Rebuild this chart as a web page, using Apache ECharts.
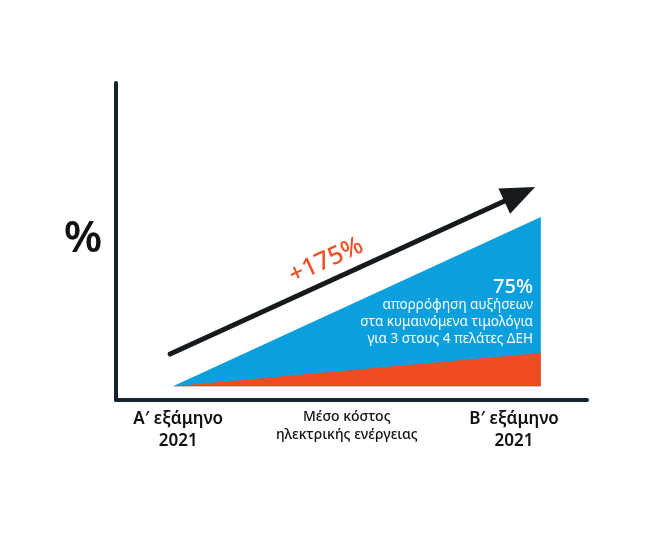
<!DOCTYPE html>
<html>
<head>
<meta charset="utf-8">
<script src="https://cdn.jsdelivr.net/npm/echarts@6/dist/echarts.min.js"></script>
<style>
html,body{margin:0;padding:0;background:#fff;}
#chart{width:650px;height:535px;}
</style>
</head>
<body>
<div id="chart"></div>
<script>
// ---- data ----
const categories = ['Α′ εξάμηνο\n2021', 'Μέσο κόστος\nηλεκτρικής ενέργειας', 'Β′ εξάμηνο\n2021'];
const categoryAt = [13.2, 49.0, 84.5];          // where each label sits on the x scale
const periodX = [12.1, 90.2];                   // start / end of the period
const baseline = [4.3, 4.3];
const costIncrease = [4.3, 57.7];               // blue area top
const absorbedByDEH = [4.3, 14.8];              // red area top
const trendX = [11.5, 89.0];
const trendY = [14.5, 67.2];
const trendLabel = '+175%';
const noteTitle = '75%';
const noteLines = ['απορρόφηση αυξήσεων', 'στα κυμαινόμενα τιμολόγια', 'για 3 στους 4 πελάτες ΔΕΗ'];
const yName = '%';

const FONT = '"Noto Sans", sans-serif';
const AXIS = '#14242f';
const BLUE = '#0b9fde';
const RED = '#f04c22';

function triangle(topArr, color) {
  return {
    type: 'custom',
    coordinateSystem: 'cartesian2d',
    data: [[periodX[0], topArr[0], periodX[1], topArr[1], baseline[0], baseline[1]]],
    encode: { x: [0, 2], y: [1, 3, 4, 5] },
    renderItem: function (params, api) {
      const a = api.coord([api.value(0), api.value(1)]);
      const b = api.coord([api.value(2), api.value(3)]);
      const c = api.coord([api.value(2), api.value(5)]);
      const d = api.coord([api.value(0), api.value(4)]);
      return {
        type: 'polygon',
        shape: { points: [d, a, b, c] },
        style: { fill: color }
      };
    },
    silent: true
  };
}

function note(text, y, size, weight) {
  return { type: 'text', x: 533, y: y, z: 100,
    style: { text: text, fill: '#ffffff', fontFamily: FONT, fontSize: size, fontWeight: weight,
             align: 'right', verticalAlign: 'middle' } };
}

const chart = echarts.init(document.getElementById('chart'), null, { renderer: 'canvas' });
chart.setOption({
  animation: false,
  backgroundColor: '#ffffff',
  grid: { left: 116, right: 63, top: 83, bottom: 135 },
  xAxis: {
    type: 'value', min: 0, max: 100,
    splitLine: { show: false },
    axisTick: { show: false },
    axisLine: { show: true, lineStyle: { color: AXIS, width: 4, cap: 'round' } },
    axisLabel: {
      show: true,
      customValues: categoryAt,
      margin: 8,
      formatter: function (v) {
        const i = categoryAt.indexOf(v);
        if (i < 0) return '';
        const st = (i === 1) ? 'b' : 'a';
        return categories[i].split('\n').map(function (s) { return '{' + st + '|' + s + '}'; }).join('\n');
      },
      rich: {
        a: { fontFamily: FONT, fontSize: 17, fontWeight: 600, color: '#111', lineHeight: 22, align: 'center' },
        b: { fontFamily: FONT, fontSize: 14, fontWeight: 500, color: '#111', lineHeight: 18, align: 'center' }
      }
    }
  },
  yAxis: {
    type: 'value', min: 0, max: 100,
    splitLine: { show: false },
    axisTick: { show: false },
    axisLabel: { show: false },
    axisLine: { show: true, lineStyle: { color: AXIS, width: 4, cap: 'round' } }
  },
  series: [
    triangle(costIncrease, BLUE),
    triangle(absorbedByDEH, RED),
    {
      type: 'custom',
      coordinateSystem: 'cartesian2d',
      data: [[trendX[0], trendY[0], trendX[1], trendY[1]]],
      encode: { x: [0, 2], y: [1, 3] },
      silent: true,
      renderItem: function (params, api) {
        const p0 = api.coord([api.value(0), api.value(1)]);
        const p1 = api.coord([api.value(2), api.value(3)]);
        const dx = p1[0] - p0[0], dy = p1[1] - p0[1];
        const len = Math.sqrt(dx * dx + dy * dy);
        const ux = dx / len, uy = dy / len;
        const nx = -uy, ny = ux;
        const headLen = 34, headW = 14;
        const bx = p1[0] - ux * headLen, by = p1[1] - uy * headLen;
        const lx = p1[0] - ux * (headLen - 4), ly = p1[1] - uy * (headLen - 4);
        const t = 0.45;
        const tx = p0[0] + dx * t - nx * 20, ty = p0[1] + dy * t - ny * 20;
        return {
          type: 'group',
          children: [
            { type: 'line', shape: { x1: p0[0], y1: p0[1], x2: lx, y2: ly },
              style: { stroke: '#171a1d', lineWidth: 5, lineCap: 'round' } },
            { type: 'polygon',
              shape: { points: [p1, [bx + nx * headW, by + ny * headW], [bx - nx * headW, by - ny * headW]] },
              style: { fill: '#171a1d' } },
            { type: 'text', x: tx, y: ty, rotation: Math.atan2(-dy, dx),
              style: { text: trendLabel, fill: '#ef5127', fontFamily: FONT, fontSize: 25, fontWeight: 500,
                       align: 'center', verticalAlign: 'middle' } }
          ]
        };
      }
    }
  ],
  graphic: {
    elements: [
      { type: 'text', x: 83, y: 239, z: 100,
        style: { text: yName, fill: '#111', fontFamily: FONT, fontSize: 44, fontWeight: 600,
                 align: 'center', verticalAlign: 'middle' } },
      note(noteTitle, 287, 20, 500),
      note(noteLines[0], 305, 13.5, 400),
      note(noteLines[1], 322, 13.5, 400),
      note(noteLines[2], 339, 13.5, 400)
    ]
  }
});
</script>
</body>
</html>
